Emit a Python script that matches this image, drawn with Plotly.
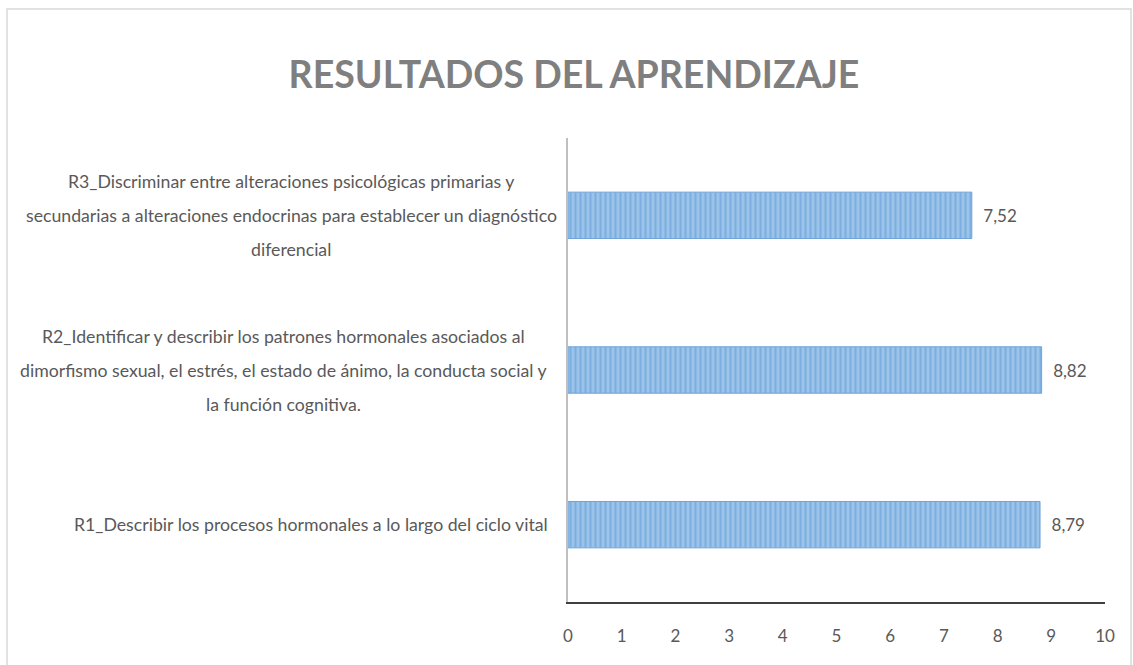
import plotly.graph_objects as go

# ---- data ----
categories = [
    "R1_Describir los procesos hormonales a lo largo del ciclo vital",
    "R2_Identificar y describir los patrones hormonales asociados al<br>dimorfismo sexual, el estrés, el estado de ánimo, la conducta social y<br>la función cognitiva.",
    "R3_Discriminar entre alteraciones psicológicas primarias y<br>secundarias a alteraciones endocrinas para establecer un diagnóstico<br>diferencial",
]
values = [8.79, 8.82, 7.52]
x_ticks = list(range(0, 11))
title_text = "RESULTADOS DEL APRENDIZAJE"

W, H = 1133, 665
L, R, T, B = 568, 28, 138, 63
pw, ph = W - L - R, H - T - B

LABEL_FONT = "Lato"
GRAY = "#595959"
LSIZE = 17.7

fig = go.Figure()
fig.add_trace(go.Bar(
    y=categories,
    x=values,
    orientation="h",
    marker=dict(
        color="#9CC3EA",
        line=dict(color="#6FA3DA", width=1),
        pattern=dict(shape="|", fgcolor="#5B9BD5", size=5, solidity=0.4),
    ),
    texttemplate="\u2002%{x:.2f}",
    textposition="outside",
    textfont=dict(family=LABEL_FONT, size=17, color=GRAY),
    cliponaxis=False,
    hoverinfo="skip",
))

# category labels: right-aligned blocks (right edge ~552px) with centred lines
LINE_GAP = 34
CHAR_W = 0.433 * LSIZE


def est_width(s):
    return len(s) * CHAR_W


annotations = []
for cat in categories:
    lines = cat.split("<br>")
    n = len(lines)
    maxw = max(est_width(l) for l in lines)
    centre_px = 552 - maxw / 2
    for i, ln in enumerate(lines):
        annotations.append(dict(
            xref="paper", yref="y", x=(centre_px - L) / pw, y=cat,
            xanchor="center", yanchor="middle",
            yshift=((n - 1) / 2 - i) * LINE_GAP,
            text=ln, showarrow=False,
            font=dict(family=LABEL_FONT, size=LSIZE, color=GRAY),
        ))

fig.update_layout(
    width=W, height=H,
    margin=dict(l=L, r=R, t=T, b=B),
    paper_bgcolor="white", plot_bgcolor="white",
    separators=",.",
    showlegend=False,
    bargap=0.70,
    title=dict(
        text=title_text,
        x=574 / W, xanchor="center",
        y=1 - 75 / H, yanchor="middle",
        font=dict(family="Lato", size=37.5, color="#7F7F7F", weight="bold"),
    ),
    xaxis=dict(
        range=[0, 10], tickvals=x_ticks, ticktext=[str(t) for t in x_ticks],
        showgrid=False, zeroline=False,
        showline=True, linecolor="#404040", linewidth=2,
        ticks="", ticklabelstandoff=18,
        tickfont=dict(family=LABEL_FONT, size=17, color=GRAY),
    ),
    yaxis=dict(
        type="category", categoryorder="array", categoryarray=categories,
        showticklabels=False, showgrid=False, zeroline=False,
        showline=True, linecolor="#BFBFBF", linewidth=1.5, ticks="",
    ),
    annotations=annotations,
    shapes=[dict(
        type="rect", xref="paper", yref="paper",
        x0=(7 - L) / pw, x1=(1131 - L) / pw,
        y0=(T + ph - 680) / ph, y1=(T + ph - 9) / ph,
        line=dict(color="#D9D9D9", width=1.5), fillcolor="rgba(0,0,0,0)",
        layer="below",
    )],
)

fig.write_html(
    "out.html",
    config={"displayModeBar": False},
    post_script="document.body.style.margin='0';document.body.style.overflow='hidden';",
)
